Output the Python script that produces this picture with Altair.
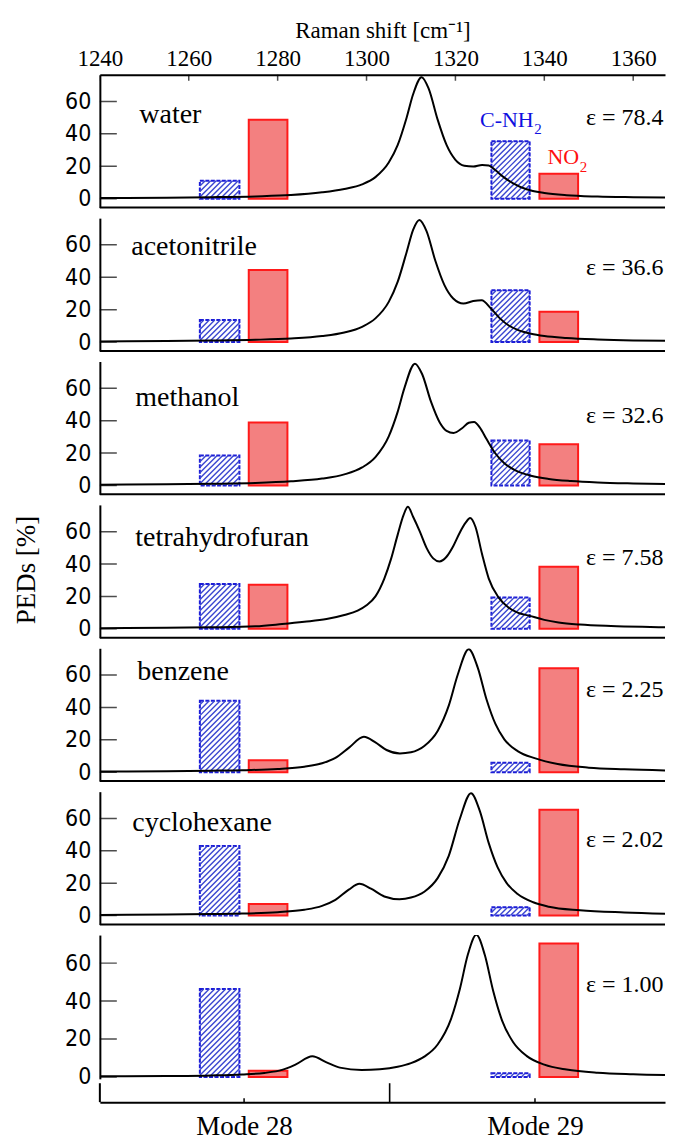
import altair as alt
import numpy as np
import pandas as pd

# ------------------------------------------------------------------ data
solvents = ["water", "acetonitrile", "methanol", "tetrahydrofuran",
            "benzene", "cyclohexane", ""]
epsilons = ["ε = 78.4", "ε = 36.6", "ε = 32.6", "ε = 7.58",
            "ε = 2.25", "ε = 2.02", "ε = 1.00"]

bar_kind = ["C-NH2", "NO2", "C-NH2", "NO2"]
bar_start = [1262.5, 1273.5, 1328.1, 1338.9]
bar_end = [1271.4, 1282.2, 1336.7, 1347.6]

ped_water = [11.1, 48.7, 35.4, 15.3]
ped_acetonitrile = [13.6, 44.5, 32.0, 18.7]
ped_methanol = [18.5, 38.8, 27.8, 25.4]
ped_thf = [27.6, 27.2, 19.4, 38.3]
ped_benzene = [44.1, 7.4, 5.8, 64.1]
ped_cyclohexane = [42.9, 7.2, 5.1, 65.3]
ped_gas = [46.3, 3.3, 1.9, 70.4]

shift_water = [1240, 1255, 1265, 1275, 1283, 1290, 1295, 1299, 1302, 1305, 1307,
               1309, 1310.5, 1312.4, 1314, 1316, 1318, 1320, 1322, 1324, 1326,
               1327.5, 1329, 1331, 1333, 1336, 1340, 1345, 1352, 1360, 1369]
int_water = [0.4, 0.6, 0.9, 1.4, 2.2, 3.9, 6.0, 8.8, 13.3, 22.3, 33.0,
             49.8, 64.6, 75.0, 67.8, 48.8, 33.2, 24.0, 20.3, 19.8, 20.8,
             20.5, 17.5, 13.0, 9.5, 5.8, 3.5, 2.1, 1.3, 0.9, 0.6]

shift_acetonitrile = [1240, 1255, 1265, 1275, 1283, 1290, 1295, 1299, 1302, 1305, 1307,
                      1309, 1310.5, 1311.9, 1313.5, 1315.5, 1317.5, 1319.5, 1321.8,
                      1324, 1325.9, 1328, 1330, 1332, 1334, 1337, 1340, 1345, 1352,
                      1360, 1369]
int_acetonitrile = [0.4, 0.6, 0.9, 1.4, 2.2, 3.7, 5.9, 9.4, 14.6, 24.8, 37.1,
                    55.3, 69.4, 75.4, 68.5, 50.0, 35.3, 26.9, 23.8,
                    25.3, 25.8, 20.7, 14.6, 10.2, 7.5, 5.1, 3.7, 2.5, 1.6,
                    1.0, 0.7]

shift_methanol = [1240, 1255, 1265, 1275, 1283, 1290, 1295, 1299, 1302, 1305, 1307,
                  1308.5, 1310.9, 1312.5, 1314.5, 1316.5, 1318, 1319.6, 1321.5,
                  1323, 1324.2, 1325.5, 1327, 1329, 1331, 1333.5, 1337, 1341,
                  1346, 1352, 1360, 1369]
int_methanol = [0.4, 0.7, 1.0, 1.5, 2.5, 4.2, 6.8, 11.1, 17.5, 30.3, 45.4,
                59.9, 75.2, 68.8, 51.7, 38.7, 33.7, 32.4, 35.3,
                38.7, 39.2, 35.7, 28.6, 19.7, 13.7, 9.3, 6.0, 4.0,
                2.7, 1.8, 1.2, 0.8]

shift_thf = [1240, 1255, 1265, 1275, 1281, 1286, 1291, 1295, 1298, 1300, 1302,
             1304, 1305.5, 1307, 1308.3, 1309.3, 1310.5, 1312, 1313.5, 1315,
             1316.4, 1318, 1319.5, 1321, 1322.3, 1323.3, 1324.5, 1326, 1327.5,
             1329.7, 1332, 1334, 1336.7, 1340, 1343.2, 1348, 1355, 1362, 1369]
int_thf = [0.4, 0.6, 0.9, 1.5, 2.9, 4.3, 6.0, 8.5, 11.2, 14.5, 20.0,
           31.0, 43.0, 58.0, 70.0, 75.4, 69.0, 60.0, 50.0, 43.5,
           41.6, 44.5, 51.0, 59.5, 65.5, 68.4, 63.0, 46.0, 31.0,
           19.4, 13.0, 10.0, 8.0, 5.5, 3.9, 2.6, 1.7, 1.2, 0.9]

shift_benzene = [1240, 1255, 1265, 1272, 1280, 1286, 1290, 1293, 1296, 1299.4,
                 1302, 1304.5, 1307.5, 1310, 1313, 1316, 1318.5, 1320.5, 1323,
                 1325, 1327, 1329, 1331, 1334, 1338, 1343, 1350, 1358, 1369]
int_benzene = [0.4, 0.6, 0.9, 1.2, 2.0, 3.4, 5.5, 8.8, 15.0, 21.9,
               18.4, 13.7, 11.6, 12.3, 16.2, 25.5, 41.1, 60.0, 75.9,
               64.7, 44.9, 29.8, 20.3, 13.0, 8.5, 5.0, 2.8, 1.8, 1.0]

shift_cyclohexane = [1240, 1255, 1265, 1272, 1280, 1286, 1290, 1293, 1296, 1298.4,
                     1301, 1304, 1307.4, 1310, 1313, 1316, 1318.5, 1321, 1323.5,
                     1325.5, 1327.5, 1329.5, 1331.5, 1334, 1337.5, 1341, 1348,
                     1358, 1369]
int_cyclohexane = [0.4, 0.6, 0.9, 1.2, 2.1, 3.6, 6.0, 9.7, 16.0, 19.6,
                   16.6, 11.8, 10.1, 11.1, 14.7, 23.1, 36.9, 59.8, 75.6,
                   64.5, 44.7, 29.7, 20.2, 13.3, 8.2, 5.5, 3.3,
                   1.9, 1.0]

shift_gas = [1240, 1255, 1265, 1272, 1277, 1281, 1284, 1287.8, 1291, 1294,
             1298.9, 1303, 1307, 1310, 1313, 1316, 1319, 1321, 1322.8, 1324.7,
             1326.6, 1328.5, 1330.5, 1333, 1336, 1340, 1345, 1352, 1360, 1369]
int_gas = [0.3, 0.5, 0.8, 1.3, 2.1, 3.7, 6.5, 10.9, 7.7, 4.9,
           3.7, 4.1, 5.4, 7.3, 10.7, 17.1, 30.5, 46.4, 64.5, 74.9,
           64.4, 45.3, 29.7, 18.3, 11.1, 6.5, 3.9, 2.2, 1.4, 0.9]

peds = [ped_water, ped_acetonitrile, ped_methanol, ped_thf,
        ped_benzene, ped_cyclohexane, ped_gas]
spectra_x = [shift_water, shift_acetonitrile, shift_methanol, shift_thf,
             shift_benzene, shift_cyclohexane, shift_gas]
spectra_y = [int_water, int_acetonitrile, int_methanol, int_thf,
             int_benzene, int_cyclohexane, int_gas]

raman_ticks = [1240, 1260, 1280, 1300, 1320, 1340, 1360]
ped_ticks = [0, 20, 40, 60]
mode_labels = ["Mode 28", "Mode 29"]
mode_centers = [1272.45, 1337.9]
mode_divider = [1305.2]
group_main = ["C-NH", "NO"]
group_sub = ["2", "2"]
raman_title = "Raman shift [cm⁻¹]"
ped_title = "PEDs [%]"

# ------------------------------------------------------------------ layout / style
SERIF = "Liberation Serif"
NARROW = "Liberation Sans Narrow, Arial Narrow, DejaVu Sans Condensed, sans-serif"
KX = 4.4513                      # px per cm-1
W = 566                          # plot width (keeps the page from being scaled)
X_MIN = 1240
X_MAX = X_MIN + W / KX
H_STD, H_LAST = 133, 144
Y_STD, Y_LAST = [-5.5, 76.5], [-1.0, 74.8]
HATCH_GAP = 5.5
BLUE = "#1c1cd8"
HATCH = "#3a46d0"
RED = "#ff1a1a"
RED_FILL = "#f38080"
GAP_BELOW = 4.4     # gap between last panel and the mode axis frame
MODE_H = 19         # height of the mode axis frame

name_pos = [(39.5, 76), (31.5, 87), (35.5, 80), (35.5, 83), (37.5, 92), (32.5, 85), (0, 0)]
eps_above = [74, 67, 63, 64, 75, 69, 85]


def hatch_segments(peds_row, ky):
    rows = []
    for x0, x1, kind, h in zip(bar_start, bar_end, bar_kind, peds_row):
        if kind != "C-NH2":
            continue
        wp, hp = (x1 - x0) * KX, h * ky
        for c in np.arange(-wp + HATCH_GAP / 2, hp, HATCH_GAP):
            sx, sy = max(0.0, -c), max(0.0, c)
            if c + wp <= hp:
                ex, ey = wp, c + wp
            else:
                ex, ey = hp - c, hp
            rows.append({"x": x0 + sx / KX, "y": sy / ky,
                         "x2": x0 + ex / KX, "y2": ey / ky})
    return pd.DataFrame(rows)


one_row = pd.DataFrame({"k": [0]})

label_expr = "'" + mode_labels[-1] + "'"
for pos, lab in reversed(list(zip(mode_centers[:-1], mode_labels[:-1]))):
    label_expr = f"datum.value <= {pos + 1} ? '{lab}' : ({label_expr})"


def panel(i):
    last = i == 6
    h = H_LAST if last else H_STD
    ydom = Y_LAST if last else Y_STD
    ky = h / (ydom[1] - ydom[0])
    zero_px = ydom[1] * ky
    xscale = alt.Scale(domain=[X_MIN, X_MAX], nice=False, zero=False)
    yscale = alt.Scale(domain=ydom, nice=False, zero=False)
    if i == 0:
        xaxis = alt.Axis(orient="top", values=raman_ticks, format="d",
                         title=raman_title,
                         titleFont=SERIF, titleFontSize=23, titleFontWeight="normal",
                         titleColor="black", titlePadding=5,
                         labelFont=SERIF, labelFontSize=23, labelColor="black",
                         labelPadding=4, labelFlush=False, ticks=False,
                         domainColor="black", domainWidth=2, grid=False)
    elif last:
        xaxis = alt.Axis(orient="bottom", values=mode_centers, labelExpr=label_expr,
                         offset=GAP_BELOW + MODE_H, ticks=False,
                         labelFont=SERIF, labelFontSize=27, labelColor="black",
                         labelPadding=11, labelFlush=False, domainColor="black",
                         domainWidth=2, title=None, grid=False)
    else:
        xaxis = None
    yaxis = alt.Axis(values=ped_ticks, title=None, labelFont=NARROW,
                     labelFontSize=23, labelColor="black", labelPadding=9,
                     ticks=False, domainColor="black", domainWidth=2,
                     grid=False, labelFlush=False)

    def X(f):
        return alt.X(f, type="quantitative", scale=xscale, axis=xaxis)

    def Y(f):
        return alt.Y(f, type="quantitative", scale=yscale, axis=yaxis)

    bars = pd.DataFrame({"start": bar_start, "end": bar_end, "kind": bar_kind,
                         "ped": peds[i], "base": 0.0})
    red_df = bars[bars["kind"] == "NO2"]
    blue_df = bars[bars["kind"] == "C-NH2"]

    layers = []
    layers.append(alt.Chart(red_df).mark_rect(
        fill=RED_FILL, stroke=RED, strokeWidth=2).encode(
        x=X("start"), x2="end", y=Y("base"), y2="ped"))
    layers.append(alt.Chart(blue_df).mark_rect(
        fill="white", stroke=BLUE, strokeWidth=2, strokeDash=[4, 1.5]).encode(
        x=X("start"), x2="end", y=Y("base"), y2="ped"))
    layers.append(alt.Chart(hatch_segments(peds[i], ky)).mark_rule(
        color=HATCH, strokeWidth=1.4).encode(
        x=X("x"), x2="x2", y=Y("y"), y2="y2"))
    spec = pd.DataFrame({"x": spectra_x[i], "y": spectra_y[i]})
    layers.append(alt.Chart(spec).mark_line(
        color="black", strokeWidth=2, interpolate="monotone", clip=True).encode(
        x=X("x"), y=Y("y")))
    # inward tick marks on the PED axis
    layers.append(alt.Chart(pd.DataFrame({"t": ped_ticks})).mark_tick(
        orient="horizontal", size=34, thickness=1.5, color="black", clip=True).encode(
        x=alt.value(0), y=Y("t")))
    if i == 0:
        layers.append(alt.Chart(pd.DataFrame({"r": raman_ticks})).mark_tick(
            orient="vertical", size=12, thickness=1.5, color="black", clip=True).encode(
            x=X("r"), y=alt.value(0)))
        # group labels C-NH2 / NO2
        layers.append(alt.Chart(pd.DataFrame({"t": [group_main[0]]})).mark_text(
            font=SERIF, fontSize=22, color="#1010e0", align="right",
            baseline="alphabetic").encode(
            x=alt.value(434.5), y=alt.value(52.7), text="t:N"))
        layers.append(alt.Chart(pd.DataFrame({"t": [group_sub[0]]})).mark_text(
            font=SERIF, fontSize=15, color="#1010e0", align="left",
            baseline="alphabetic").encode(
            x=alt.value(435), y=alt.value(59.5), text="t:N"))
        layers.append(alt.Chart(pd.DataFrame({"t": [group_main[1]]})).mark_text(
            font=SERIF, fontSize=22, color="#ff1010", align="right",
            baseline="alphabetic").encode(
            x=alt.value(480), y=alt.value(89), text="t:N"))
        layers.append(alt.Chart(pd.DataFrame({"t": [group_sub[1]]})).mark_text(
            font=SERIF, fontSize=15, color="#ff1010", align="left",
            baseline="alphabetic").encode(
            x=alt.value(480.5), y=alt.value(97), text="t:N"))
    if i == 3:
        layers.append(alt.Chart(pd.DataFrame({"t": [ped_title]})).mark_text(
            font=SERIF, fontSize=27, color="black", angle=270, align="center",
            baseline="middle").encode(
            x=alt.value(-72.5), y=alt.value(65.2), text="t:N"))
    if solvents[i]:
        nx, nup = name_pos[i]
        layers.append(alt.Chart(pd.DataFrame({"t": [solvents[i]]})).mark_text(
            font=SERIF, fontSize=28, color="black", align="left",
            baseline="alphabetic").encode(
            x=alt.value(nx), y=alt.value(zero_px - nup), text="t:N"))
    layers.append(alt.Chart(pd.DataFrame({"t": [epsilons[i]]})).mark_text(
        font=SERIF, fontSize=24, color="black", align="right",
        baseline="alphabetic").encode(
        x=alt.value(W - 1.5), y=alt.value(zero_px - eps_above[i]), text="t:N"))
    if not last:
        layers.append(alt.Chart(one_row).mark_rule(
            color="black", strokeWidth=2).encode(
            x=alt.value(0), x2=alt.value(W), y=alt.value(h)))
    else:
        top_f, bot_f = h + GAP_BELOW, h + GAP_BELOW + MODE_H
        # left edge of the mode-axis frame
        layers.append(alt.Chart(one_row).mark_rule(
            color="black", strokeWidth=2).encode(
            x=alt.value(0), y=alt.value(top_f), y2=alt.value(bot_f)))
        # divider between the two modes
        layers.append(alt.Chart(pd.DataFrame({"m": mode_divider})).mark_rule(
            color="black", strokeWidth=1.6).encode(
            x=X("m"), y=alt.value(top_f), y2=alt.value(bot_f)))
        # small inward ticks at the mode centres
        layers.append(alt.Chart(pd.DataFrame({"m": mode_centers})).mark_rule(
            color="black", strokeWidth=1.5).encode(
            x=X("m"), y=alt.value(bot_f - 4), y2=alt.value(bot_f)))
    return alt.layer(*layers).properties(width=W, height=h)


panels = [panel(i) for i in range(7)]

chart = alt.vconcat(*panels, spacing=10.6, bounds="flush").properties(
    padding={"left": 5, "top": 11, "right": 0, "bottom": 0},
    background="white",
).configure_view(stroke=None)

chart.save("out.html", embed_options={"renderer": "svg", "actions": False})
